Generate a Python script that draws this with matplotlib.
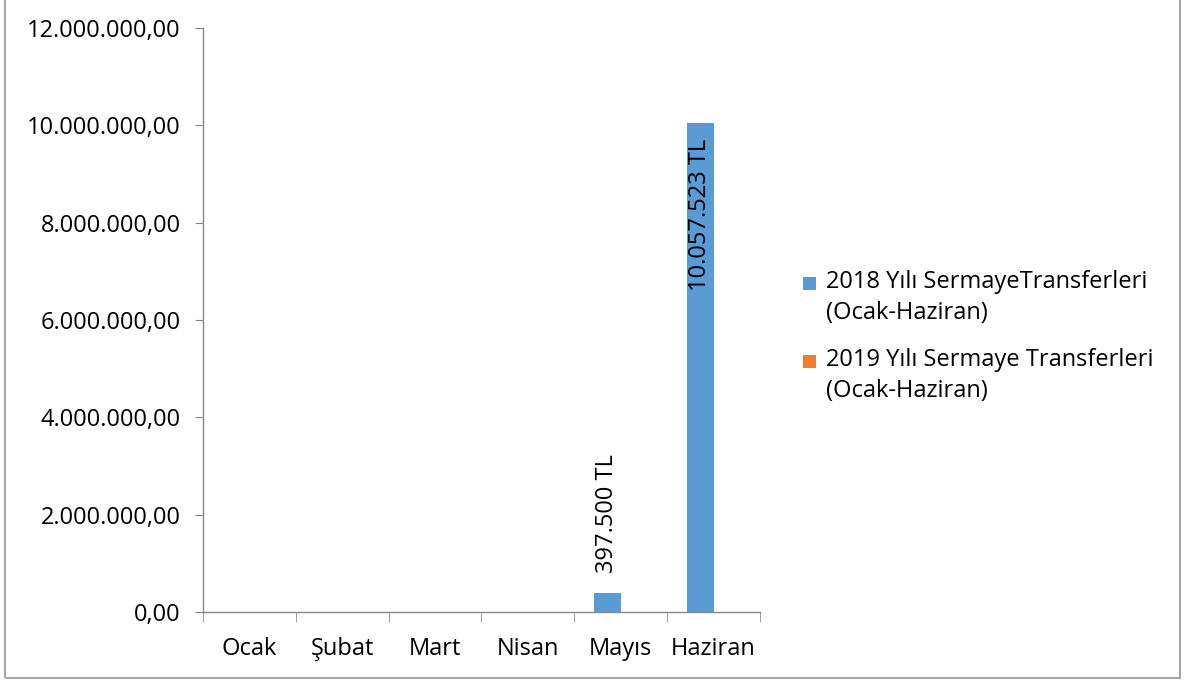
import matplotlib
matplotlib.use("Agg")
import matplotlib.pyplot as plt
from matplotlib.patches import Rectangle
from matplotlib.ticker import FuncFormatter, FixedLocator
import numpy as np

plt.rcParams['font.family'] = ['Open Sans', 'DejaVu Sans']

months = ["Ocak", "Şubat", "Mart", "Nisan", "Mayıs", "Haziran"]
values_2018 = [0, 0, 0, 0, 397500, 10057523]
values_2019 = [0, 0, 0, 0, 0, 0]
labels_2018 = ["", "", "", "", "397.500 TL", "10.057.523 TL"]
series_names = ["2018 Yılı SermayeTransferleri\n(Ocak-Haziran)",
                "2019 Yılı Sermaye Transferleri\n(Ocak-Haziran)"]
colors = ["#5B9BD5", "#ED7D31"]

W, H = 1193, 684
FS = 17
fig = plt.figure(figsize=(W / 100, H / 100), dpi=100)
ax = fig.add_axes([203 / W, (H - 612) / H, (760 - 203) / W, (612 - 28) / H])

x = np.arange(len(months))
w = 1 / 3.5
b1 = ax.bar(x - w / 2, values_2018, w, color=colors[0], label=series_names[0])
b2 = ax.bar(x + w / 2, values_2019, w, color=colors[1], label=series_names[1])

ax.set_xlim(-0.5, len(months) - 0.5)
ax.set_ylim(0, 12000000)
ax.set_yticks(np.arange(0, 12000001, 2000000))


def fmt(v, pos):
    s = f"{int(round(v)):,}".replace(",", ".")
    return s + ",00"


ax.yaxis.set_major_formatter(FuncFormatter(fmt))
ax.set_xticks(x)
ax.set_xticklabels(months)
ax.xaxis.set_minor_locator(FixedLocator(np.arange(-0.5, len(months), 1.0)))

axis_col = "#898989"
for s in ["top", "right"]:
    ax.spines[s].set_visible(False)
for s in ["left", "bottom"]:
    ax.spines[s].set_color(axis_col)
    ax.spines[s].set_linewidth(1.0)

ax.tick_params(axis="y", length=6, color=axis_col, labelsize=FS, pad=10, labelcolor="black")
ax.tick_params(axis="x", which="major", length=0, labelsize=FS, pad=18, labelcolor="black")
ax.tick_params(axis="x", which="minor", length=7, color=axis_col)

for rect, lab, v in zip(b1, labels_2018, values_2018):
    if not lab:
        continue
    cx = rect.get_x() + rect.get_width() / 2
    if v > 5000000:
        ax.annotate(lab, (cx, v), xytext=(0, -12), textcoords="offset points",
                    rotation=90, ha="center", va="top", fontsize=FS)
    else:
        ax.annotate(lab, (cx, v), xytext=(0, 14), textcoords="offset points",
                    rotation=90, ha="center", va="bottom", fontsize=FS)

# legend (Excel style: square aligned with first line)
leg_x_box = 803
leg_x_text = 826
leg_top = [277, 355]
box = 13
for col, name, top in zip(colors, series_names, leg_top):
    fig.patches.append(Rectangle((leg_x_box / W, (H - top - box) / H), box / W, box / H,
                                 transform=fig.transFigure, facecolor=col, edgecolor="none"))
    fig.text(leg_x_text / W, (H - top + 7) / H, name, fontsize=FS, va="top", ha="left",
             linespacing=1.38)

fig.patches.append(Rectangle((5 / W, 6 / H), (1180 - 5) / W, (H - 6) / H + 0.01,
                             transform=fig.transFigure, fill=False,
                             edgecolor="#A6A6A6", linewidth=1.5))

fig.savefig("out.png", dpi=100)
